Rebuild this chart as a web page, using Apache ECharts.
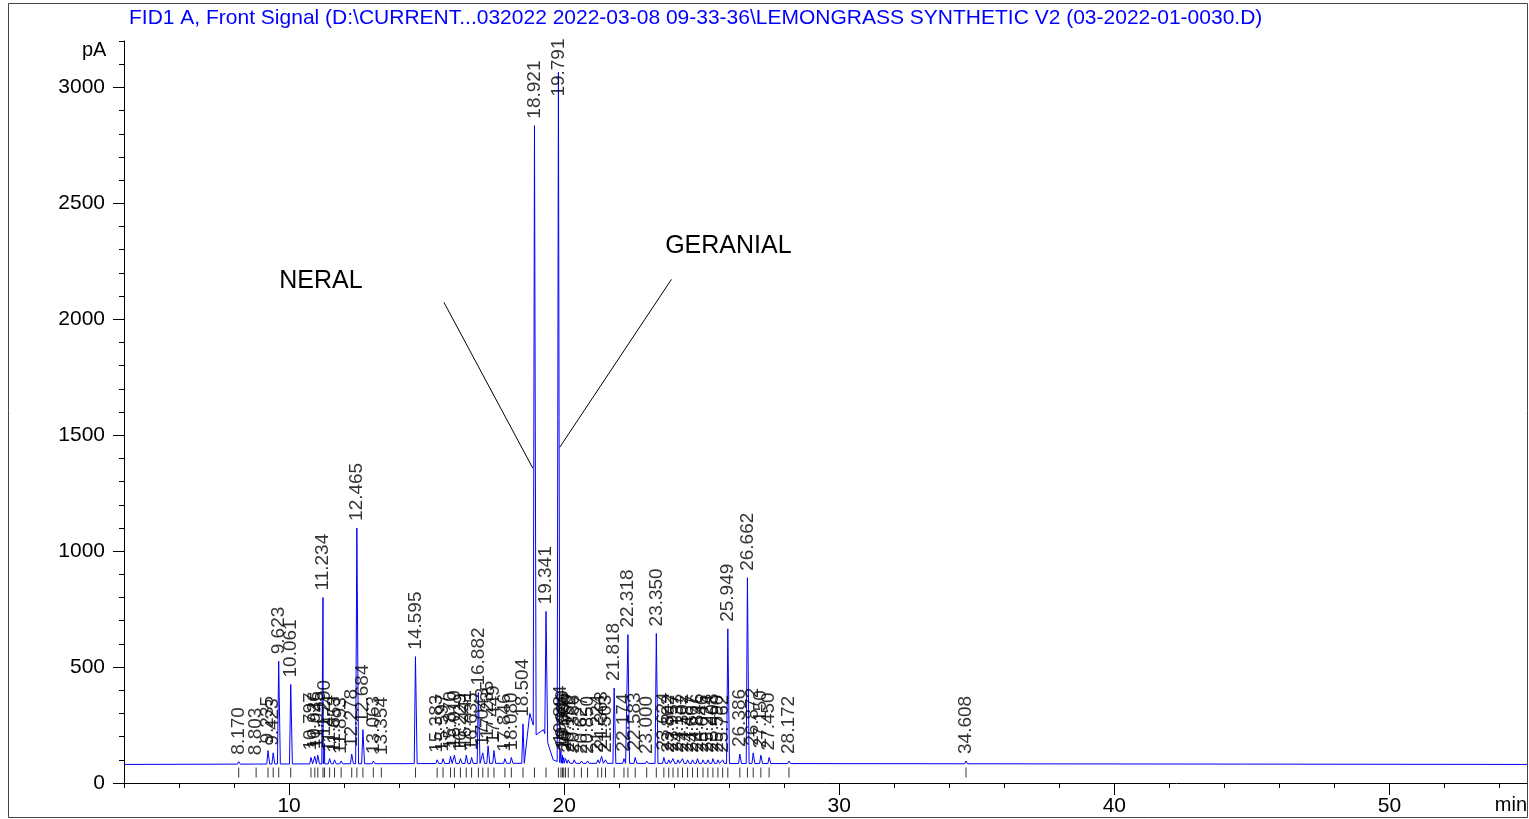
<!DOCTYPE html>
<html>
<head>
<meta charset="utf-8">
<title>FID1 A - Lemongrass synthetic</title>
<script src="https://cdn.jsdelivr.net/npm/echarts@6/dist/echarts.min.js"></script>
<style>
  html, body { margin: 0; padding: 0; background: #fff; }
  #main { width: 1529px; height: 819px; }
</style>
</head>
<body>
<div id="main"></div>
<script>
// retention times (min) of the integrated peaks
var peakTimes = [8.170, 8.803, 9.235, 9.423, 9.623, 10.061, 10.797, 10.936, 11.045, 11.234,
  11.290, 11.474, 11.653, 11.893, 12.278, 12.465, 12.684, 13.063, 13.354, 14.595,
  15.383, 15.597, 15.870, 16.010, 16.229, 16.441, 16.635, 16.882, 17.043, 17.235,
  17.449, 17.846, 18.080, 18.504, 18.921, 19.341, 19.791, 19.884, 19.940, 19.986,
  20.050, 20.150, 20.366, 20.627, 20.850, 21.224, 21.363, 21.503, 21.818, 22.174,
  22.318, 22.583, 23.000, 23.350, 23.624, 23.802, 23.957, 24.137, 24.302, 24.487,
  24.667, 24.846, 25.046, 25.224, 25.408, 25.590, 25.762, 25.949, 26.386, 26.662,
  26.872, 27.150, 27.450, 28.172, 34.608];
// peak apex signal (pA)
var peakHeights = [92, 90, 140, 130, 525, 425, 110, 115, 120, 800,
  170, 105, 100, 95, 125, 1100, 230, 95, 90, 545,
  100, 105, 115, 120, 105, 120, 110, 390, 130, 160,
  140, 105, 110, 255, 2835, 740, 3065, 140, 120, 110,
  105, 100, 100, 95, 95, 100, 115, 100, 410, 105,
  640, 110, 95, 645, 110, 100, 105, 100, 105, 100,
  100, 105, 100, 100, 105, 100, 100, 665, 125, 885,
  130, 120, 110, 95, 95];
// slow background under the citral peaks (min, pA)
var background = [[4, 80], [18.55, 85], [18.75, 300], [19.0, 200], [19.25, 230], [19.6, 100], [19.9, 85], [55, 80]];

var yLabels = [0, 500, 1000, 1500, 2000, 2500, 3000];
var yMinor = [100, 200, 300, 400, 600, 700, 800, 900, 1100, 1200, 1300, 1400, 1600, 1700, 1800, 1900,
  2100, 2200, 2300, 2400, 2600, 2700, 2800, 2900, 3100, 3200];
var xLabels = [10, 20, 30, 40, 50];
var xMinor = [4, 6, 8, 12, 14, 16, 18, 22, 24, 26, 28, 32, 34, 36, 38, 42, 44, 46, 48, 52, 54];

var labelCap = 2930;   // labels of the tallest peak are pushed down inside the frame
var font = 'Liberation Sans, Arial, sans-serif';

function bgAt(t) {
  for (var i = 1; i < background.length; i++) {
    var a = background[i - 1], b = background[i];
    if (t <= b[0]) return a[1] + (b[1] - a[1]) * (t - a[0]) / (b[0] - a[0]);
  }
  return background[background.length - 1][1];
}

// trace: background points + one narrow triangle per peak
var trace = background.slice();
for (var i = 0; i < peakTimes.length; i++) {
  var t = peakTimes[i];
  trace.push([t - 0.045, bgAt(t - 0.045)]);
  trace.push([t, peakHeights[i]]);
  trace.push([t + 0.06, bgAt(t + 0.06)]);
}
trace.sort(function (a, b) { return a[0] - b[0]; });

var labelData = [], tickData = [];
for (var i = 0; i < peakTimes.length; i++) {
  labelData.push([peakTimes[i], Math.min(peakHeights[i], labelCap)]);
  tickData.push([peakTimes[i], 80]);
}

var myChart = echarts.init(document.getElementById('main'));
var option = {
  animation: false,
  title: {
    text: 'FID1 A, Front Signal (D:\\CURRENT...032022 2022-03-08 09-33-36\\LEMONGRASS SYNTHETIC V2 (03-2022-01-0030.D)',
    left: 124, top: 3,
    textStyle: { color: '#0000ff', fontSize: 21, fontWeight: 'normal', fontFamily: font }
  },
  grid: { left: 124, right: 2, top: 41, bottom: 36 },
  xAxis: [{
    type: 'value', min: 4, max: 55,
    axisLine: { lineStyle: { color: '#000', width: 1 } },
    axisTick: { length: 12, customValues: xLabels, lineStyle: { color: '#000' } },
    axisLabel: { customValues: xLabels, margin: 13, color: '#000', fontSize: 21, fontFamily: font },
    splitLine: { show: false }
  }, {
    type: 'value', min: 4, max: 55, position: 'bottom',
    axisLine: { show: false },
    axisTick: { length: 5, customValues: xMinor, lineStyle: { color: '#000' } },
    axisLabel: { show: false },
    splitLine: { show: false }
  }],
  yAxis: [{
    type: 'value', min: 0, max: 3200,
    axisLine: { show: true, lineStyle: { color: '#000', width: 1 } },
    axisTick: { show: true, length: 11, customValues: yLabels, lineStyle: { color: '#000' } },
    axisLabel: {
      customValues: yLabels, margin: 19, color: '#000', fontSize: 21, fontFamily: font,
      formatter: function (v) { return String(v); }
    },
    splitLine: { show: false }
  }, {
    type: 'value', min: 0, max: 3200, position: 'left',
    axisLine: { show: false },
    axisTick: { show: true, length: 5, customValues: yMinor, lineStyle: { color: '#000' } },
    axisLabel: { show: false },
    splitLine: { show: false }
  }],
  series: [{
    type: 'line',
    data: trace,
    symbol: 'none',
    lineStyle: { color: '#0000ff', width: 1 },
    z: 3,
    markLine: {
      silent: true, symbol: 'none', label: { show: false },
      lineStyle: { color: '#000', width: 1, type: 'solid' },
      data: [
        [{ coord: [15.63, 2073] }, { coord: [18.86, 1358] }],
        [{ coord: [23.90, 2172] }, { coord: [19.84, 1448] }]
      ]
    },
    markPoint: {
      silent: true, symbolSize: 0,
      label: { show: true, color: '#000', fontSize: 25, fontFamily: font, formatter: '{b}' },
      data: [
        { name: 'NERAL', coord: [11.16, 2164] },
        { name: 'GERANIAL', coord: [25.97, 2315] }
      ]
    }
  }, {
    type: 'scatter',
    data: labelData,
    symbolSize: 0,
    silent: true,
    z: 4,
    label: {
      show: true, position: 'top', distance: 7, rotate: 90,
      align: 'left', verticalAlign: 'middle',
      color: '#000', fontSize: 19, fontFamily: font,
      formatter: function (p) { return p.value[0].toFixed(3); }
    }
  }, {
    type: 'scatter',
    data: tickData,
    symbol: 'rect',
    symbolSize: [1, 10],
    symbolOffset: [0, 8],
    itemStyle: { color: '#000' },
    silent: true,
    z: 2
  }],
  graphic: [
    { type: 'rect', shape: { x: 8.5, y: 3.5, width: 1519, height: 814 },
      style: { fill: 'none', stroke: '#444', lineWidth: 1 }, silent: true },
    { type: 'text', left: 82, top: 40,
      style: { text: 'pA', fill: '#000', fontSize: 20, fontFamily: font } },
    { type: 'text', right: 2, top: 795,
      style: { text: 'min', fill: '#000', fontSize: 20, fontFamily: font } }
  ]
};
myChart.setOption(option);
</script>
</body>
</html>
